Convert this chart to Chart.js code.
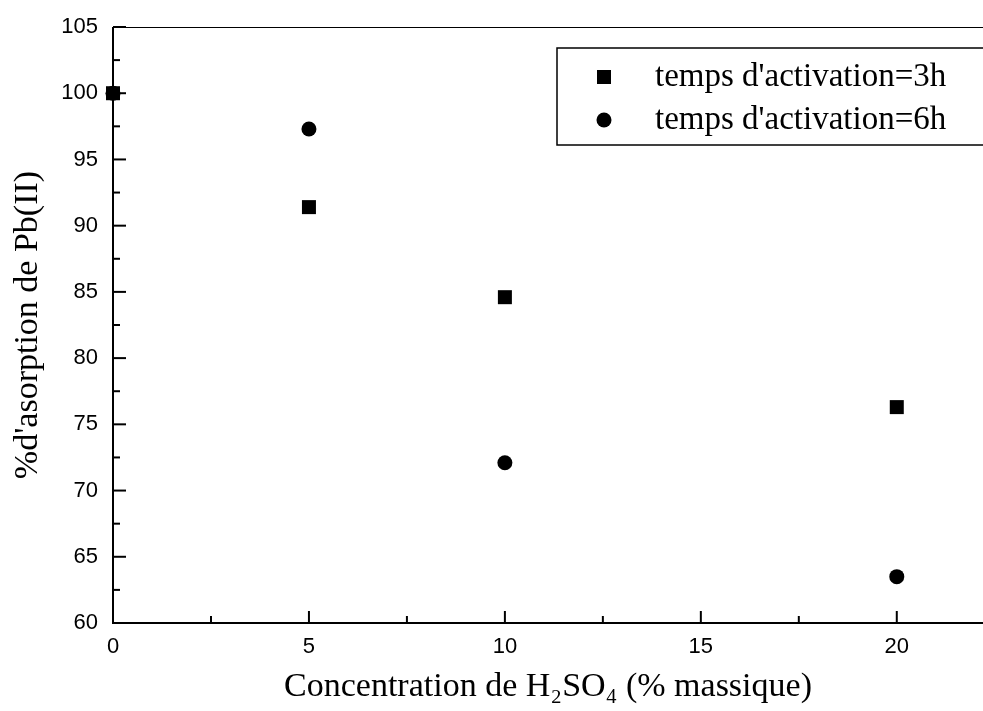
<!DOCTYPE html>
<html>
<head>
<meta charset="utf-8">
<script src="https://cdn.jsdelivr.net/npm/chart.js@4"></script>
<style>
  html, body { margin: 0; padding: 0; background: #fff; }
  #wrap { width: 983px; height: 711px; }
</style>
</head>
<body>
<div id="wrap"><canvas id="graph"></canvas></div>
<script>
// concentration H2SO4 (% massique)
const concentrations = [0, 5, 10, 20]
// % absorption for each activation time
const absorption3h = [100, 91.4, 84.6, 76.3]
const absorption6h = [100, 97.3, 72.1, 63.5]
const seriesLabels = ["temps d'activation=3h", "temps d'activation=6h"]

const toPoints = (xs, ys) => xs.map((x, i) => ({x: x, y: ys[i]}))

const serif = "'Liberation Serif', 'Times New Roman', serif"
const sans = "'Liberation Sans', Arial, sans-serif"

// ticks pointing inside the plot (major every 5, minor every 2.5)
const insideTicks = {
    id: 'insideTicks',
    afterDraw(chart) {
        const ctx = chart.ctx
        const area = chart.chartArea
        const xs = chart.scales.x
        const ys = chart.scales.y
        ctx.save()
        ctx.strokeStyle = '#000'
        // top border (thin)
        ctx.lineWidth = 1
        ctx.beginPath()
        ctx.moveTo(area.left, area.top + 0.5)
        ctx.lineTo(area.right, area.top + 0.5)
        ctx.stroke()
        ctx.lineWidth = 2
        xs.ticks.forEach(t => {
            if (Math.abs(t.value / 2.5 - Math.round(t.value / 2.5)) > 1e-6) return
            const len = (t.value % 5 === 0) ? 12 : 7
            const px = xs.getPixelForValue(t.value)
            ctx.beginPath()
            ctx.moveTo(px, area.bottom)
            ctx.lineTo(px, area.bottom - len)
            ctx.stroke()
        })
        ys.ticks.forEach(t => {
            if (Math.abs(t.value / 2.5 - Math.round(t.value / 2.5)) > 1e-6) return
            const len = (t.value % 5 === 0) ? 13 : 7
            const py = ys.getPixelForValue(t.value)
            ctx.beginPath()
            ctx.moveTo(area.left, py)
            ctx.lineTo(area.left + len, py)
            ctx.stroke()
        })
        // axes lines
        ctx.beginPath()
        ctx.moveTo(area.left, area.top)
        ctx.lineTo(area.left, area.bottom)
        ctx.lineTo(area.right, area.bottom)
        ctx.stroke()
        ctx.restore()
    }
}

// legend box inside the plot
const boxLegend = {
    id: 'boxLegend',
    afterDraw(chart) {
        const ctx = chart.ctx
        const left = 557, top = 48, bottom = 145
        ctx.save()
        ctx.strokeStyle = '#000'
        ctx.lineWidth = 1.5
        ctx.strokeRect(left, top, chart.width - left + 5, bottom - top)
        ctx.font = "33px " + serif
        ctx.textBaseline = 'middle'
        chart.data.datasets.forEach((ds, i) => {
            const cy = 77 + i * 43
            ctx.fillStyle = '#000'
            Chart.helpers.drawPoint(ctx, {
                pointStyle: ds.pointStyle,
                radius: ds.pointRadius,
                borderWidth: 0
            }, 604, cy)
            ctx.fillText(ds.label, 655, cy)
        })
        ctx.restore()
    }
}

new Chart(document.getElementById('graph'), {
    type: 'scatter',
    data: {
        datasets: [{
            label: seriesLabels[0],
            data: toPoints(concentrations, absorption3h),
            pointStyle: 'rect',
            pointRadius: 9.9,
            pointBorderWidth: 0,
            backgroundColor: '#000',
            borderColor: '#000',
            clip: false
        }, {
            label: seriesLabels[1],
            data: toPoints(concentrations, absorption6h),
            pointStyle: 'circle',
            pointRadius: 7.5,
            pointBorderWidth: 0,
            backgroundColor: '#000',
            borderColor: '#000',
            clip: false
        }]
    },
    options: {
        responsive: true,
        maintainAspectRatio: false,
        animation: false,
        layout: { autoPadding: false, padding: { top: 27, right: 0, left: 0, bottom: 0 } },
        plugins: {
            legend: { display: false },
            tooltip: { enabled: false }
        },
        scales: {
            x: {
                type: 'linear',
                min: 0,
                max: 22.2,
                border: { display: false },
                grid: { display: false, drawTicks: false },
                ticks: {
                    stepSize: 2.5,
                    autoSkip: false,
                    maxRotation: 0,
                    padding: 11,
                    color: '#000',
                    font: { family: sans, size: 22 },
                    callback: v => (v % 5 === 0 ? v : '')
                },
                title: {
                    display: true,
                    text: 'Concentration de H₂SO₄ (% massique)',
                    color: '#000',
                    font: { family: serif, size: 34 },
                    padding: { top: 0, bottom: 4 }
                },
                afterFit: s => {
                    s.height = 88
                    s.paddingLeft = 0
                    s.paddingRight = 0
                }
            },
            y: {
                type: 'linear',
                min: 60,
                max: 105,
                border: { display: false },
                grid: { display: false, drawTicks: false },
                ticks: {
                    stepSize: 2.5,
                    autoSkip: false,
                    padding: 15,
                    color: '#000',
                    font: { family: sans, size: 22 },
                    callback: v => (v % 5 === 0 ? v : '')
                },
                title: {
                    display: true,
                    text: "%d'asorption de Pb(II)",
                    color: '#000',
                    font: { family: serif, size: 34 },
                    padding: { top: 8, bottom: 0 }
                },
                afterFit: s => {
                    s.width = 113
                    s.paddingTop = 0
                    s.paddingBottom = 0
                }
            }
        }
    },
    plugins: [insideTicks, boxLegend]
})
</script>
</body>
</html>
